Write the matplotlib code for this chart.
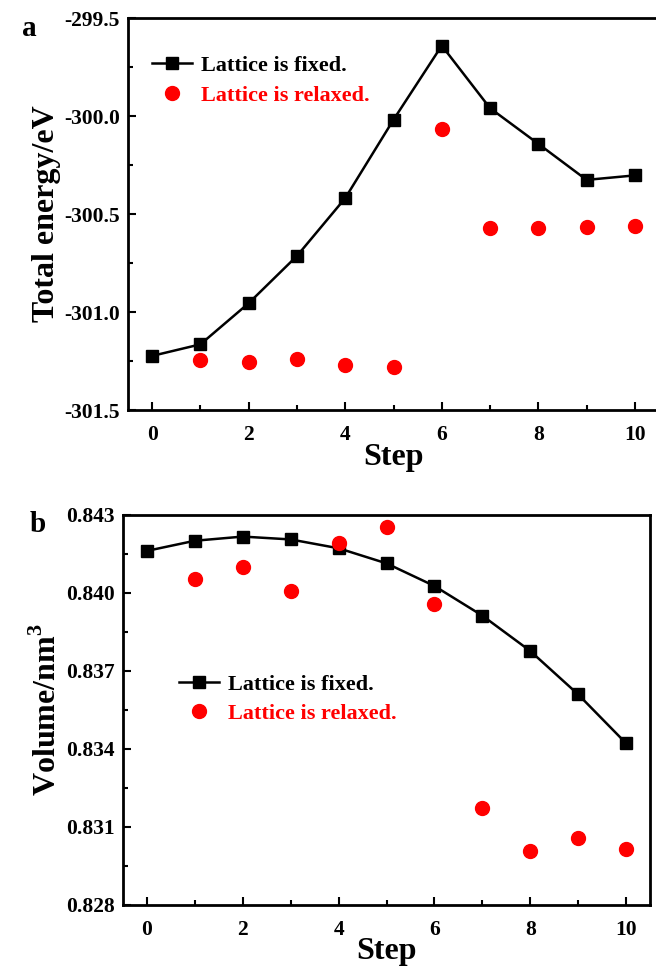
import matplotlib
matplotlib.use("Agg")
import matplotlib.pyplot as plt
from matplotlib.ticker import MultipleLocator

steps = list(range(11))
energy_fixed = [-301.224, -301.165, -300.955, -300.714, -300.419, -300.019,
                -299.641, -299.960, -300.142, -300.326, -300.303]
steps_relaxed = list(range(1, 11))
energy_relaxed = [-301.245, -301.253, -301.241, -301.272, -301.282,
                  -300.067, -300.571, -300.571, -300.564, -300.559]

volume_fixed = [0.84162, 0.84201, 0.84217, 0.84206, 0.84172, 0.84114,
                0.84027, 0.83913, 0.83777, 0.83610, 0.83422]
volume_relaxed = [0.84054, 0.84101, 0.84008, 0.84194, 0.84255,
                  0.83958, 0.83172, 0.83009, 0.83058, 0.83014]

plt.rcParams["font.family"] = ["Liberation Serif", "DejaVu Serif"]
plt.rcParams["font.weight"] = "bold"
plt.rcParams["mathtext.fontset"] = "custom"
plt.rcParams["mathtext.rm"] = "Liberation Serif"
plt.rcParams["mathtext.bf"] = "Liberation Serif:bold"

fig = plt.figure(figsize=(6.56, 9.68), dpi=100)
W, H = 656.0, 968.0


def pix_axes(l, t, r, b):
    return fig.add_axes([l / W, 1 - b / H, (r - l) / W, (b - t) / H])


def style(ax):
    for s in ax.spines.values():
        s.set_linewidth(2)
    ax.tick_params(which="both", direction="in", width=1.5, top=False, right=False)
    ax.tick_params(which="major", length=6, labelsize=15.5)
    ax.tick_params(axis="x", which="major", pad=11)
    ax.tick_params(axis="y", which="major", pad=6)
    ax.tick_params(which="minor", length=3.5)
    for lab in ax.get_xticklabels() + ax.get_yticklabels():
        lab.set_fontweight("bold")


# panel a
ax1 = pix_axes(128, 18, 659, 410)
ax1.plot(steps, energy_fixed, "k-s", lw=1.8, ms=9, label="Lattice is fixed.")
ax1.plot(steps_relaxed, energy_relaxed, "o", color="#ff0000", ms=10, ls="none",
         label="Lattice is relaxed.")
ax1.set_xlim(-0.5, 10.5)
ax1.set_ylim(-301.5, -299.5)
ax1.xaxis.set_major_locator(MultipleLocator(2))
ax1.xaxis.set_minor_locator(MultipleLocator(1))
ax1.yaxis.set_major_locator(MultipleLocator(0.5))
ax1.yaxis.set_minor_locator(MultipleLocator(0.25))
ax1.yaxis.set_major_formatter(plt.FormatStrFormatter("%.1f"))
ax1.set_xlabel("Step", fontsize=23, fontweight="bold", labelpad=-2)
ax1.set_ylabel("Total energy/eV", fontsize=23, fontweight="bold", labelpad=2)
style(ax1)
leg1 = ax1.legend(loc="upper left", bbox_to_anchor=(0.008, 0.955), frameon=False,
                  prop={"size": 16, "weight": "bold"}, handlelength=1.8,
                  handletextpad=0.4, labelspacing=0.4)
leg1.get_texts()[1].set_color("#ff0000")
fig.text(22 / W, 1 - 28 / H, "a", fontsize=21, fontweight="bold", va="center")

# panel b
ax2 = pix_axes(123, 515, 650, 905)
ax2.plot(steps, volume_fixed, "k-s", lw=1.8, ms=9, label="Lattice is fixed.")
ax2.plot(steps_relaxed, volume_relaxed, "o", color="#ff0000", ms=10, ls="none",
         label="Lattice is relaxed.")
ax2.set_xlim(-0.5, 10.5)
ax2.set_ylim(0.828, 0.843)
ax2.xaxis.set_major_locator(MultipleLocator(2))
ax2.xaxis.set_minor_locator(MultipleLocator(1))
ax2.yaxis.set_major_locator(MultipleLocator(0.003))
ax2.yaxis.set_minor_locator(MultipleLocator(0.0015))
ax2.yaxis.set_major_formatter(plt.FormatStrFormatter("%.3f"))
ax2.set_xlabel("Step", fontsize=23, fontweight="bold", labelpad=-2)
ax2.set_ylabel("Volume/nm$^{\\mathrm{3}}$", fontsize=23, fontweight="bold", labelpad=2)
style(ax2)
leg2 = ax2.legend(loc="upper left", bbox_to_anchor=(0.068, 0.643), frameon=False,
                  prop={"size": 16, "weight": "bold"}, handlelength=1.8,
                  handletextpad=0.4, labelspacing=0.4)
leg2.get_texts()[1].set_color("#ff0000")
fig.text(30 / W, 1 - 524 / H, "b", fontsize=21, fontweight="bold", va="center")

fig.savefig("out.png", dpi=100)
